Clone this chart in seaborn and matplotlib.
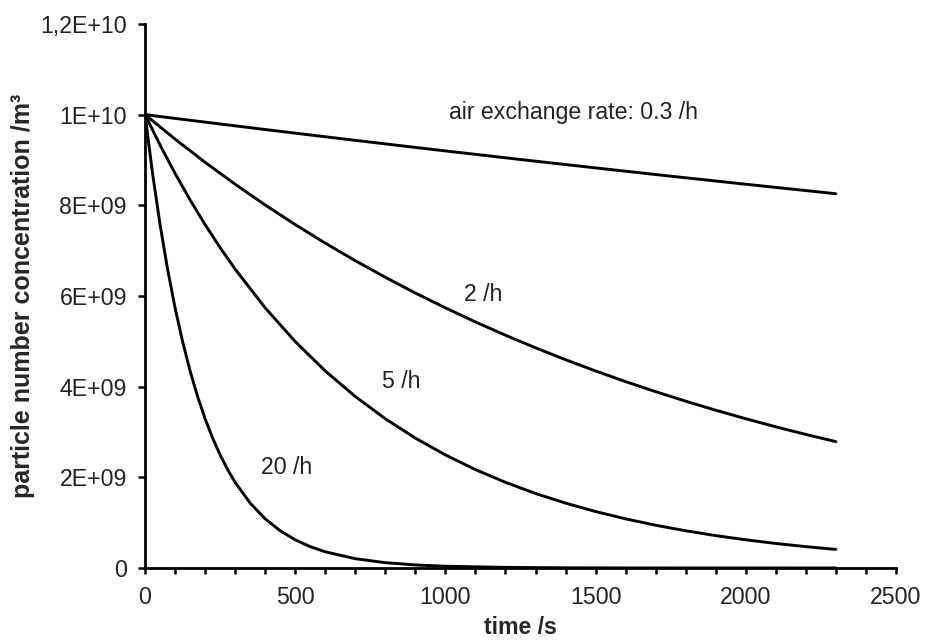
import matplotlib
matplotlib.use("Agg")
import matplotlib.pyplot as plt
import seaborn as sns
import pandas as pd
from matplotlib.ticker import MultipleLocator

# ---- data (concentration in units of 1E9 /m3) ----
t_03 = [0, 100, 200, 300, 400, 500, 600, 700, 800, 900, 1000, 1100, 1200,
        1300, 1400, 1500, 1600, 1700, 1800, 1900, 2000, 2100, 2200, 2300]
c_03 = [10.0, 9.917, 9.835, 9.753, 9.672, 9.592, 9.512, 9.433, 9.355, 9.277,
        9.200, 9.124, 9.048, 8.973, 8.899, 8.825, 8.752, 8.679, 8.607, 8.536,
        8.465, 8.395, 8.325, 8.256]

t_2 = t_03
c_2 = [10.0, 9.460, 8.948, 8.465, 8.007, 7.575, 7.165, 6.778, 6.412, 6.065,
       5.738, 5.427, 5.134, 4.857, 4.594, 4.346, 4.111, 3.889, 3.679, 3.480,
       3.292, 3.114, 2.946, 2.787]

t_5 = [0, 50, 100, 150, 200, 250, 300, 400, 500, 600, 700, 800, 900, 1000,
       1100, 1200, 1300, 1400, 1500, 1600, 1700, 1800, 1900, 2000, 2100,
       2200, 2300]
c_5 = [10.0, 9.329, 8.703, 8.119, 7.575, 7.066, 6.592, 5.738, 4.994, 4.346,
       3.782, 3.292, 2.865, 2.494, 2.170, 1.889, 1.644, 1.431, 1.245, 1.084,
       0.943, 0.821, 0.714, 0.622, 0.541, 0.471, 0.410]

t_20 = [0, 25, 50, 75, 100, 125, 150, 175, 200, 225, 250, 275, 300, 350, 400,
        450, 500, 550, 600, 700, 800, 900, 1000, 1200, 1400, 1600, 1800,
        2000, 2300]
c_20 = [10.0, 8.703, 7.575, 6.592, 5.738, 4.994, 4.346, 3.782, 3.292, 2.865,
        2.494, 2.170, 1.889, 1.431, 1.084, 0.821, 0.622, 0.471, 0.357, 0.205,
        0.117, 0.067, 0.039, 0.013, 0.004, 0.001, 0.0005, 0.0002, 0.0]

rate_labels = ["air exchange rate: 0.3 /h", "2 /h", "5 /h", "20 /h"]
label_pos_t = [1012, 1062, 790, 386]
label_pos_c = [10.04, 6.03, 4.11, 2.21]

y_ticks = [0, 2, 4, 6, 8, 10, 12]
y_ticklabels = ["0", "2E+09", "4E+09", "6E+09", "8E+09", "1E+10", "1,2E+10"]
x_ticks = [0, 500, 1000, 1500, 2000, 2500]

# ---- build long table ----
frames = []
for name, t, c in [("0.3", t_03, c_03), ("2", t_2, c_2),
                   ("5", t_5, c_5), ("20", t_20, c_20)]:
    frames.append(pd.DataFrame({"time": t, "conc": [v * 1e9 for v in c],
                                "rate": name}))
df = pd.concat(frames, ignore_index=True)

sns.set_theme(style="ticks")
plt.rcParams["font.family"] = ["Liberation Sans", "DejaVu Sans"]

fig = plt.figure(figsize=(9.25, 6.41), dpi=100)
ax = fig.add_axes([0.1568, 0.1139, 0.9686 - 0.1568, 0.9626 - 0.1139])

sns.lineplot(data=df, x="time", y="conc", hue="rate",
             palette=["black"] * 4, legend=False, linewidth=2.1,
             sort=True, estimator=None, ax=ax)

ax.set_xlim(0, 2500)
ax.set_ylim(0, 12e9)
ax.set_xticks(x_ticks)
ax.set_xticklabels([str(v) for v in x_ticks])
ax.xaxis.set_minor_locator(MultipleLocator(100))
ax.set_yticks([v * 1e9 for v in y_ticks])
ax.set_yticklabels(y_ticklabels)

for s in ["top", "right"]:
    ax.spines[s].set_visible(False)
for s in ["left", "bottom"]:
    ax.spines[s].set_linewidth(2.0)
    ax.spines[s].set_color("black")

ax.tick_params(axis="y", which="major", direction="out", length=5, width=1.8,
               pad=8, labelsize=16.7, colors="black", labelcolor="#222222")
ax.tick_params(axis="x", which="both", direction="out", length=4, width=1.8,
               pad=9, labelsize=16.7, colors="black", labelcolor="#222222")

ax.set_xlabel("time /s", fontsize=16.7, fontweight="bold", labelpad=5)
ax.set_ylabel("particle number concentration /m³", fontsize=18,
              fontweight="bold", labelpad=3.5)

for lab, tx, cy in zip(rate_labels, label_pos_t, label_pos_c):
    ax.text(tx, cy * 1e9, lab, fontsize=16.7, ha="left", va="center",
            color="#222222")

fig.savefig("out.png", dpi=100)
